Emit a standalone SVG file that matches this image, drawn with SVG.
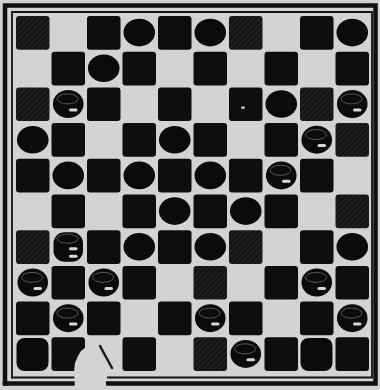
<svg xmlns="http://www.w3.org/2000/svg" xmlns:xlink="http://www.w3.org/1999/xlink" width="380" height="390" viewBox="0 0 380 390">
<style>
.d{fill:#0e0e0e}
.h{fill:url(#hatch)}
.fr{fill:none;stroke:#111;stroke-linecap:square}
</style>
<defs>
<pattern id="hatch" width="4" height="4" patternUnits="userSpaceOnUse" patternTransform="rotate(45)">
<rect width="4" height="4" fill="#141414"/>
<rect width="1.2" height="4" fill="#242424"/>
</pattern>
<g id="bp"><ellipse cx="17.75" cy="17.6" rx="15.8" ry="13.8" fill="#0b0b0b"/></g>
<g id="wp">
<ellipse cx="17.75" cy="17.6" rx="15.3" ry="14" fill="#0b0b0b"/>
<ellipse cx="17" cy="12.5" rx="10.5" ry="5" fill="none" stroke="#555" stroke-width="1"/>
<rect x="18.5" y="22" width="8.5" height="3" rx="1.5" fill="#d8d8d8"/>
</g>
<g id="wk">
<rect x="3" y="3" width="29.5" height="29.5" rx="11" fill="#0b0b0b"/>
<ellipse cx="17" cy="9.5" rx="10.5" ry="4.5" fill="none" stroke="#555" stroke-width="1"/>
<rect x="18.5" y="18" width="8.5" height="3" rx="1.5" fill="#d8d8d8"/>
<rect x="18.5" y="25.5" width="8.5" height="3" rx="1.5" fill="#d8d8d8"/>
</g>
</defs>
<rect width="380" height="390" fill="#d3d3d3"/>
<g id="frame">
<path class="fr" d="M5,383.5 V5.5 H375.5 V383.5 H108" stroke-width="4.5"/>
<path class="fr" d="M5,383.5 H74" stroke-width="4.5"/>
<path class="fr" d="M12,377.5 V12 H372 V377.5 H108" stroke-width="1.8"/>
<path class="fr" d="M12,377.5 H74" stroke-width="1.8"/>
</g>
<g id="squares">
<rect class="h" x="16" y="16" width="33.5" height="33.7" rx="3"/>
<rect class="d" x="87" y="16" width="33.5" height="33.7" rx="3"/>
<rect class="d" x="158" y="16" width="33.5" height="33.7" rx="3"/>
<rect class="h" x="229" y="16" width="33.5" height="33.7" rx="3"/>
<rect class="d" x="300" y="16" width="33.5" height="33.7" rx="3"/>
<rect class="d" x="51.5" y="51.7" width="33.5" height="33.7" rx="3"/>
<rect class="d" x="122.5" y="51.7" width="33.5" height="33.7" rx="3"/>
<rect class="d" x="193.5" y="51.7" width="33.5" height="33.7" rx="3"/>
<rect class="d" x="264.5" y="51.7" width="33.5" height="33.7" rx="3"/>
<rect class="d" x="335.5" y="51.7" width="33.5" height="33.7" rx="3"/>
<rect class="h" x="16" y="87.4" width="33.5" height="33.7" rx="3"/>
<rect class="d" x="87" y="87.4" width="33.5" height="33.7" rx="3"/>
<rect class="d" x="158" y="87.4" width="33.5" height="33.7" rx="3"/>
<rect class="d" x="229" y="87.4" width="33.5" height="33.7" rx="3"/>
<rect class="h" x="300" y="87.4" width="33.5" height="33.7" rx="3"/>
<rect class="d" x="51.5" y="123.1" width="33.5" height="33.7" rx="3"/>
<rect class="d" x="122.5" y="123.1" width="33.5" height="33.7" rx="3"/>
<rect class="d" x="193.5" y="123.1" width="33.5" height="33.7" rx="3"/>
<rect class="d" x="264.5" y="123.1" width="33.5" height="33.7" rx="3"/>
<rect class="h" x="335.5" y="123.1" width="33.5" height="33.7" rx="3"/>
<rect class="d" x="16" y="158.8" width="33.5" height="33.7" rx="3"/>
<rect class="d" x="87" y="158.8" width="33.5" height="33.7" rx="3"/>
<rect class="d" x="158" y="158.8" width="33.5" height="33.7" rx="3"/>
<rect class="d" x="229" y="158.8" width="33.5" height="33.7" rx="3"/>
<rect class="d" x="300" y="158.8" width="33.5" height="33.7" rx="3"/>
<rect class="d" x="51.5" y="194.5" width="33.5" height="33.7" rx="3"/>
<rect class="d" x="122.5" y="194.5" width="33.5" height="33.7" rx="3"/>
<rect class="d" x="193.5" y="194.5" width="33.5" height="33.7" rx="3"/>
<rect class="d" x="264.5" y="194.5" width="33.5" height="33.7" rx="3"/>
<rect class="h" x="335.5" y="194.5" width="33.5" height="33.7" rx="3"/>
<rect class="h" x="16" y="230.2" width="33.5" height="33.7" rx="3"/>
<rect class="d" x="87" y="230.2" width="33.5" height="33.7" rx="3"/>
<rect class="d" x="158" y="230.2" width="33.5" height="33.7" rx="3"/>
<rect class="h" x="229" y="230.2" width="33.5" height="33.7" rx="3"/>
<rect class="d" x="300" y="230.2" width="33.5" height="33.7" rx="3"/>
<rect class="d" x="51.5" y="265.9" width="33.5" height="33.7" rx="3"/>
<rect class="d" x="122.5" y="265.9" width="33.5" height="33.7" rx="3"/>
<rect class="h" x="193.5" y="265.9" width="33.5" height="33.7" rx="3"/>
<rect class="d" x="264.5" y="265.9" width="33.5" height="33.7" rx="3"/>
<rect class="d" x="335.5" y="265.9" width="33.5" height="33.7" rx="3"/>
<rect class="d" x="16" y="301.6" width="33.5" height="33.7" rx="3"/>
<rect class="d" x="87" y="301.6" width="33.5" height="33.7" rx="3"/>
<rect class="d" x="158" y="301.6" width="33.5" height="33.7" rx="3"/>
<rect class="d" x="229" y="301.6" width="33.5" height="33.7" rx="3"/>
<rect class="d" x="300" y="301.6" width="33.5" height="33.7" rx="3"/>
<rect class="d" x="51.5" y="337.3" width="33.5" height="33.7" rx="3"/>
<rect class="d" x="122.5" y="337.3" width="33.5" height="33.7" rx="3"/>
<rect class="h" x="193.5" y="337.3" width="33.5" height="33.7" rx="3"/>
<rect class="d" x="264.5" y="337.3" width="33.5" height="33.7" rx="3"/>
<rect class="d" x="335.5" y="337.3" width="33.5" height="33.7" rx="3"/>
<rect x="241" y="106.5" width="4" height="2.2" rx="1" fill="#cfcfcf"/>
</g>
<g id="black-pieces">
<use href="#bp" transform="translate(121.5,15)"/>
<use href="#bp" transform="translate(192.5,15)"/>
<use href="#bp" transform="translate(334.5,15)"/>
<use href="#bp" transform="translate(86,50.7)"/>
<use href="#bp" transform="translate(263.5,86.4)"/>
<use href="#bp" transform="translate(15,122.1)"/>
<use href="#bp" transform="translate(157,122.1)"/>
<use href="#bp" transform="translate(50.5,157.8)"/>
<use href="#bp" transform="translate(121.5,157.8)"/>
<use href="#bp" transform="translate(192.5,157.8)"/>
<use href="#bp" transform="translate(157,193.5)"/>
<use href="#bp" transform="translate(228,193.5)"/>
<use href="#bp" transform="translate(121.5,229.2)"/>
<use href="#bp" transform="translate(192.5,229.2)"/>
<use href="#bp" transform="translate(334.5,229.2)"/>
<rect x="16.5" y="338" width="32" height="33" rx="8" fill="#0b0b0b"/>
<rect x="300.5" y="338" width="32" height="33" rx="8" fill="#0b0b0b"/>
</g>
<g id="white-pieces">
<use href="#wp" transform="translate(50.5,86.4)"/>
<use href="#wp" transform="translate(334.5,86.4)"/>
<use href="#wp" transform="translate(299,122.1)"/>
<use href="#wp" transform="translate(263.5,157.8)"/>
<use href="#wk" transform="translate(50.5,229.2)"/>
<use href="#wp" transform="translate(15,264.9)"/>
<use href="#wp" transform="translate(86,264.9)"/>
<use href="#wp" transform="translate(299,264.9)"/>
<use href="#wp" transform="translate(50.5,300.6)"/>
<use href="#wp" transform="translate(192.5,300.6)"/>
<use href="#wp" transform="translate(334.5,300.6)"/>
<use href="#wp" transform="translate(228,336.3)"/>
</g>
<g id="damage">
<path d="M86,347 L81,351 L78,356 L75,363 L74,372 L75,390 L107,390 L105,378 L101,362 L96,350 L92,346 Z" fill="#d3d3d3"/>
<line x1="100" y1="346" x2="112" y2="368" stroke="#1a1a1a" stroke-width="2.5" stroke-linecap="round"/>
</g>
</svg>
